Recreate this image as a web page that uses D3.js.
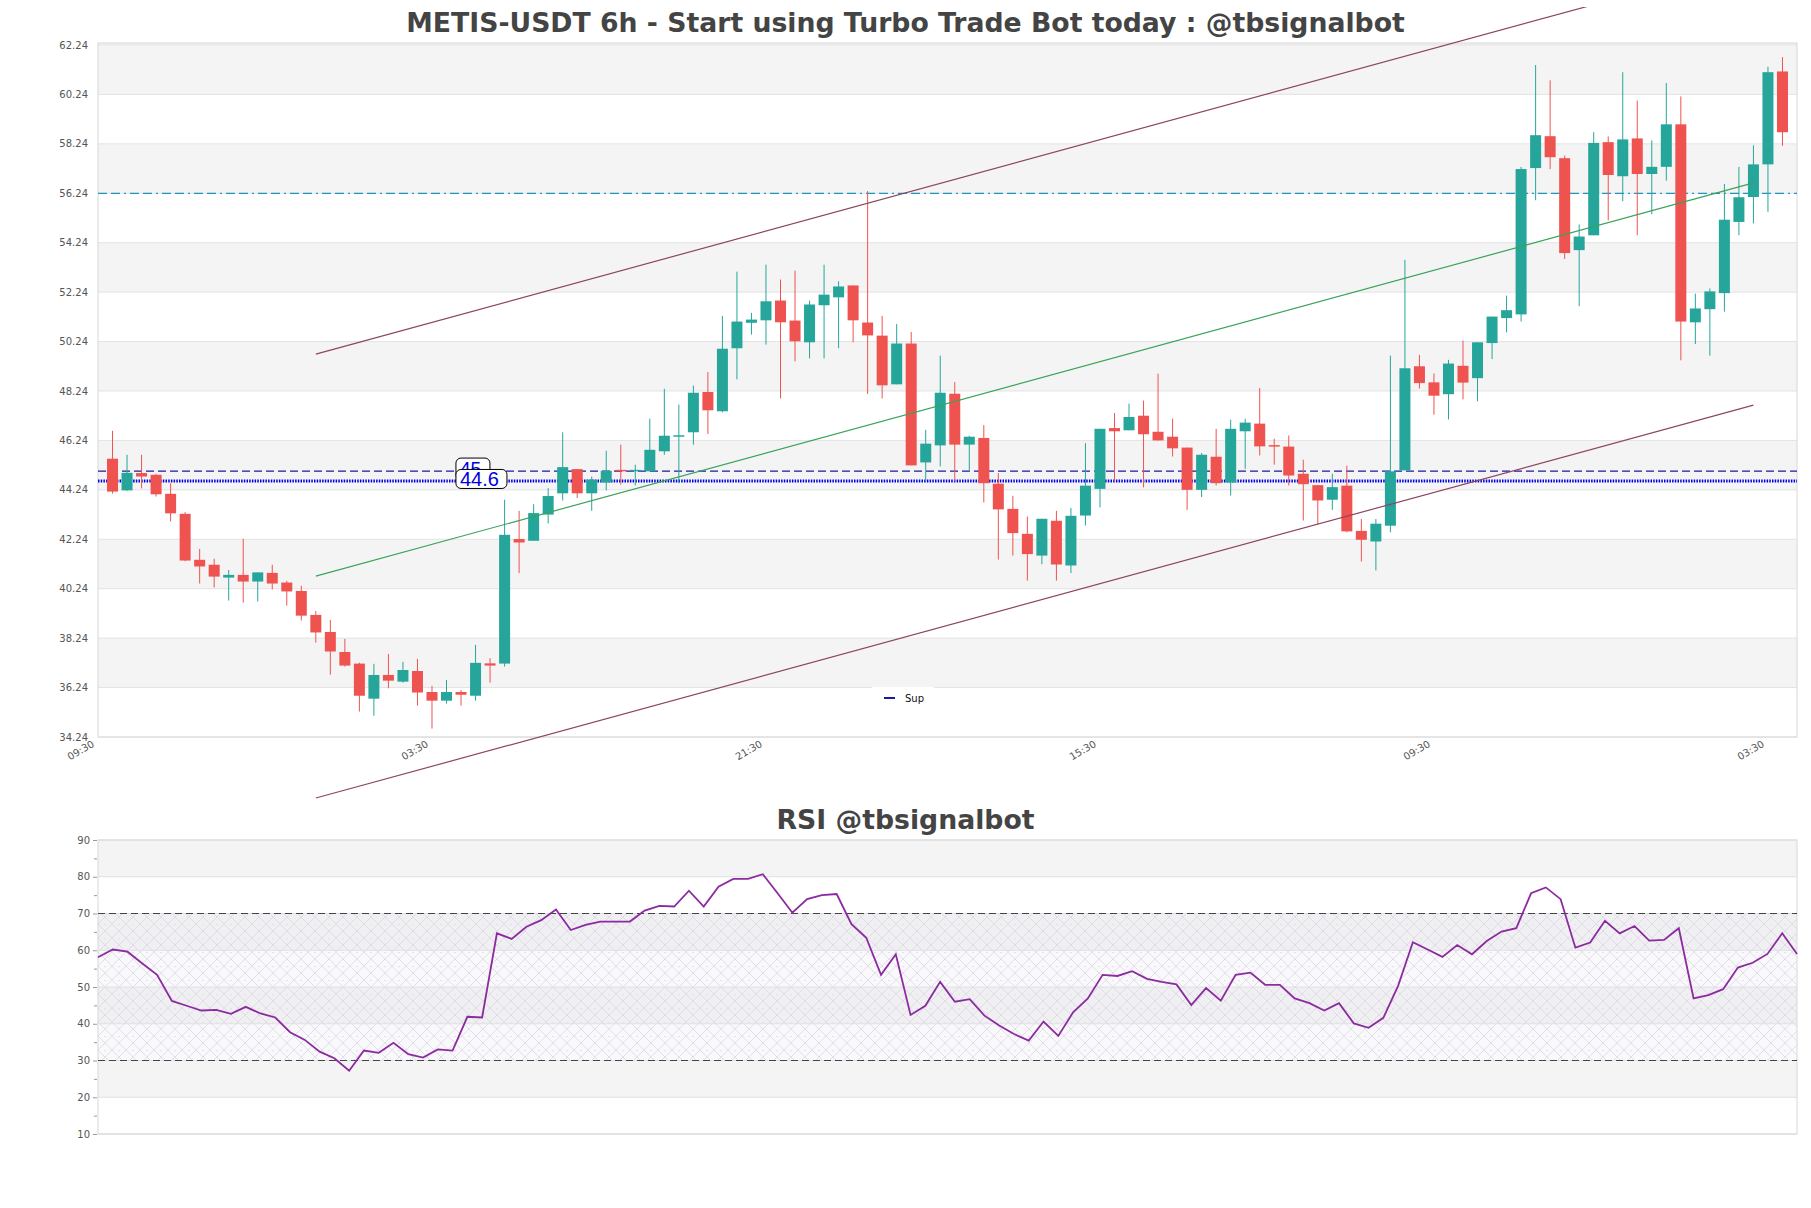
<!DOCTYPE html>
<html>
<head>
<meta charset="utf-8">
<script src="https://cdn.jsdelivr.net/npm/d3@7"></script>
<style>
  html, body { margin: 0; padding: 0; background: #fff; }
  svg { display: block; font-family: "DejaVu Sans", sans-serif; }
</style>
</head>
<body>
<svg id="chart" width="1811" height="1208"></svg>
<script>
// candles, 6h
const opens = [45.50,44.22,44.92,44.85,44.08,43.27,41.41,41.21,40.69,40.80,40.53,40.88,40.49,40.15,39.18,38.49,37.68,37.21,35.79,36.75,
  36.48,36.91,36.06,35.71,36.06,35.91,37.22,37.21,42.25,42.18,43.24,44.10,45.08,44.10,44.54,45.05,45.00,44.99,45.80,46.40,
  46.57,48.20,47.42,49.97,51.00,51.10,51.90,51.09,50.21,51.71,52.03,52.51,51.01,50.48,48.51,50.16,45.35,46.04,48.13,46.07,
  46.34,44.49,43.47,42.46,41.58,42.99,41.18,43.20,44.28,46.74,46.65,47.24,46.59,46.39,45.95,44.24,45.58,44.54,46.61,46.92,
  46.05,45.99,44.89,44.43,43.84,44.41,42.58,42.15,42.79,45.03,49.24,48.59,48.11,49.26,48.76,50.18,51.19,51.34,57.26,58.55,
  57.66,53.94,54.54,58.31,56.93,58.46,57.02,57.31,59.03,51.02,51.55,52.20,55.08,56.09,57.41,61.17];
const highs = [46.63,45.66,45.66,44.89,44.51,43.34,41.85,41.45,41.00,42.26,40.90,41.21,40.56,40.36,39.34,38.98,38.21,37.25,37.20,37.60,
  37.28,37.40,36.31,36.55,36.14,37.97,37.43,43.84,43.39,43.66,44.31,46.57,45.08,44.78,45.82,46.07,45.26,47.12,48.33,47.69,
  48.46,49.01,51.28,53.07,51.40,53.35,52.75,53.11,51.90,53.35,52.68,52.51,56.33,51.28,50.95,50.63,46.67,49.67,48.60,46.43,
  46.86,44.92,44.00,43.16,43.07,43.39,43.51,46.13,46.71,47.35,47.73,47.85,48.94,47.12,45.95,45.73,46.71,47.08,47.12,48.36,
  46.31,46.44,45.46,44.43,44.89,45.22,43.06,43.06,49.67,53.55,49.70,48.95,49.50,50.28,50.21,51.25,52.10,57.31,61.43,60.81,
  57.77,54.98,58.71,58.54,61.14,59.99,58.38,60.70,60.16,52.18,52.39,56.62,57.31,58.18,61.36,61.75];
const lows = [44.09,44.20,44.30,43.97,42.96,41.35,40.45,40.29,39.76,39.68,39.72,40.21,39.56,38.95,38.06,36.76,37.09,35.27,35.10,36.21,
  36.44,35.51,34.58,35.59,35.51,35.71,36.44,37.09,40.87,42.18,42.88,43.81,43.91,43.39,44.22,44.45,44.42,44.99,45.66,44.51,
  46.07,46.50,47.38,48.71,50.52,50.12,47.94,49.44,49.56,49.56,49.97,50.21,48.12,47.94,48.51,45.23,44.58,45.19,44.58,44.99,
  43.73,41.42,41.58,40.57,41.23,40.57,40.87,42.80,43.53,44.58,46.65,44.34,46.24,45.59,43.43,43.95,44.42,44.01,45.09,45.63,
  45.26,44.42,43.00,42.85,43.43,42.52,41.34,40.98,42.52,45.03,48.34,47.28,47.09,47.90,47.82,49.53,50.61,51.05,55.96,57.22,
  53.58,51.67,54.54,55.14,55.92,54.54,55.39,56.75,49.48,50.14,49.67,51.45,54.54,55.02,55.49,58.16];
const closes = [44.17,44.93,44.78,44.06,43.29,41.38,41.14,40.73,40.80,40.53,40.90,40.45,40.13,39.15,38.47,37.70,37.13,35.91,36.75,36.52,
  36.95,36.04,35.71,36.06,35.95,37.24,37.13,42.42,42.11,43.30,43.99,45.16,44.10,44.65,45.01,45.00,45.05,45.86,46.43,46.45,
  48.17,47.46,49.95,51.05,51.13,51.87,51.02,50.25,51.74,52.14,52.47,51.10,50.49,48.47,50.16,45.23,46.11,48.17,46.07,46.39,
  44.51,43.45,42.49,41.64,43.07,41.22,43.19,44.41,46.71,46.61,47.19,46.49,46.24,45.92,44.24,45.66,44.51,46.71,46.96,46.00,
  46.00,44.82,44.47,43.81,44.35,42.56,42.22,42.87,44.99,49.16,48.56,48.05,49.35,48.58,50.21,51.25,51.51,57.22,58.59,57.70,
  53.82,54.49,58.28,56.98,58.42,57.02,57.31,59.03,51.05,51.58,52.27,55.17,56.08,57.41,61.14,58.71];

const rsiValues = [58.1,60.2,59.6,56.4,53.3,46.2,44.9,43.6,43.8,42.7,44.6,42.8,41.7,37.7,35.6,32.4,30.6,27.2,32.7,32.1,
  34.8,31.7,30.8,33.0,32.7,41.9,41.7,64.6,63.1,66.4,68.2,71.1,65.5,66.9,67.8,67.8,67.8,70.8,72.1,71.9,
  76.2,71.9,77.3,79.4,79.4,80.7,75.5,70.2,73.9,75.0,75.3,67.1,63.4,53.3,58.9,42.4,44.9,51.4,46.0,46.7,
  42.2,39.5,37.2,35.4,40.6,36.7,43.1,46.9,53.3,53.0,54.3,52.2,51.4,50.7,45.1,49.7,46.3,53.3,53.9,50.6,
  50.6,46.9,45.6,43.6,45.6,40.1,38.9,41.6,50.3,62.2,60.2,58.2,61.4,58.9,62.5,65.1,66.0,75.5,77.1,73.9,
  60.7,62.1,68.0,64.6,66.6,62.6,62.8,66.0,46.9,47.8,49.4,55.3,56.6,59.0,64.6,59.0];

const priceTicks = [34.24,36.24,38.24,40.24,42.24,44.24,46.24,48.24,50.24,52.24,54.24,56.24,58.24,60.24,62.24];
const timeTickIdx = [-1, 22, 45, 68, 91, 114];
const timeTickLabels = ["09:30", "03:30", "21:30", "15:30", "09:30", "03:30"];
const rsiTicks = [10, 20, 30, 40, 50, 60, 70, 80, 90];

const resistance = 56.24;
const supports = [45, 44.6];
const supportLabels = ["45", "44.6"];
const labelIdx = 23.65;

const channelIdx = [14, 113];
const upperLine = [49.73, 65.64];
const midLine = [40.75, 56.66];
const lowerLine = [31.77, 47.67];

const W = 1811;
const svg = d3.select("#chart");
svg.append("rect").attr("width", W).attr("height", 1208).attr("fill", "#fff");

const left = 98, right = 1797;
const x = d3.scaleLinear().domain([-1, 116]).range([left, right]);
const y = d3.scaleLinear().domain([34.24, 62.24]).range([737, 45]);
const frameTop = 43, frameBottom = 737;

// titles
svg.append("text").attr("x", W / 2).attr("y", 32).attr("text-anchor", "middle")
  .attr("font-size", 26.7).attr("font-weight", "bold").attr("fill", "#444")
  .text("METIS-USDT 6h - Start using Turbo Trade Bot today : @tbsignalbot");
svg.append("text").attr("x", W / 2).attr("y", 829).attr("text-anchor", "middle")
  .attr("font-size", 26.7).attr("font-weight", "bold").attr("fill", "#444")
  .text("RSI @tbsignalbot");

// main panel bands + grid
const main = svg.append("g");
const bandStarts = priceTicks.filter((d, i) => i % 2 === 1 && i < priceTicks.length - 1);
main.selectAll(".band").data(bandStarts).enter().append("rect")
  .attr("x", left).attr("width", right - left)
  .attr("y", (d) => (d + 2 >= 62.24 ? frameTop : y(d + 2)))
  .attr("height", (d) => y(d) - (d + 2 >= 62.24 ? frameTop : y(d + 2)))
  .attr("fill", "#f4f4f4");
main.selectAll(".grid").data(priceTicks).enter().append("line")
  .attr("x1", left).attr("x2", right).attr("y1", (d) => y(d)).attr("y2", (d) => y(d))
  .attr("stroke", "#e3e3e3");
main.append("rect").attr("x", left).attr("y", frameTop).attr("width", right - left)
  .attr("height", frameBottom - frameTop).attr("fill", "none").attr("stroke", "#d8d8d8");

main.selectAll(".ylab").data(priceTicks).enter().append("text")
  .attr("x", 88).attr("y", (d) => y(d) + 3.5).attr("text-anchor", "end")
  .attr("font-size", 10).attr("fill", "#555").text((d) => d.toFixed(2));

timeTickIdx.forEach((t, i) => {
  main.append("text")
    .attr("transform", `translate(${x(t) - 3}, ${frameBottom + 9}) rotate(-30)`)
    .attr("text-anchor", "end").attr("font-size", 10).attr("fill", "#555")
    .text(timeTickLabels[i]);
});

// level lines
main.append("line").attr("x1", left).attr("x2", right)
  .attr("y1", y(resistance)).attr("y2", y(resistance))
  .attr("stroke", "#1b96c8").attr("stroke-width", 1.2).attr("stroke-dasharray", "9,4,9,4,2,4");
main.append("line").attr("x1", left).attr("x2", right)
  .attr("y1", y(supports[0])).attr("y2", y(supports[0]))
  .attr("stroke", "#1a1aa8").attr("stroke-width", 1.3).attr("stroke-dasharray", "8,4");
main.append("line").attr("x1", left).attr("x2", right)
  .attr("y1", y(supports[1])).attr("y2", y(supports[1]))
  .attr("stroke", "#0000e6").attr("stroke-width", 3).attr("stroke-dasharray", "1.5,1.2");

// candles
const data = opens.map((o, i) => ({ i, o, h: highs[i], l: lows[i], c: closes[i] }));
const up = "#26a69a", down = "#ef5350";
const bw = 11;
const candle = main.selectAll(".candle").data(data).enter().append("g");
candle.append("line")
  .attr("x1", (d) => x(d.i)).attr("x2", (d) => x(d.i))
  .attr("y1", (d) => y(d.h)).attr("y2", (d) => y(d.l))
  .attr("stroke", (d) => (d.c >= d.o ? up : down)).attr("stroke-width", 1);
candle.append("rect")
  .attr("x", (d) => x(d.i) - bw / 2).attr("width", bw)
  .attr("y", (d) => y(Math.max(d.o, d.c)))
  .attr("height", (d) => Math.max(1.5, Math.abs(y(d.o) - y(d.c))))
  .attr("fill", (d) => (d.c >= d.o ? up : down));

// trend channel
svg.append("clipPath").attr("id", "topclip").append("rect")
  .attr("x", 0).attr("y", 7).attr("width", W).attr("height", 1201);
const trend = svg.append("g").attr("clip-path", "url(#topclip)");
[[upperLine, "#8c4660"], [midLine, "#3aa35a"], [lowerLine, "#8c4660"]].forEach(([p, col]) => {
  trend.append("line")
    .attr("x1", x(channelIdx[0])).attr("y1", y(p[0]))
    .attr("x2", x(channelIdx[1])).attr("y2", y(p[1]))
    .attr("stroke", col).attr("stroke-width", 1.2);
});

// support labels
const lab = svg.append("g").attr("font-family", "'Liberation Sans', Arial, sans-serif");
const lx = x(labelIdx);
lab.append("rect").attr("x", lx).attr("y", y(supports[0]) - 13).attr("width", 34).attr("height", 22)
  .attr("rx", 5).attr("fill", "#fff").attr("stroke", "#000");
lab.append("text").attr("x", lx + 4).attr("y", y(supports[0]) + 4).attr("font-size", 19)
  .attr("fill", "#0000e6").text(supportLabels[0]);
lab.append("rect").attr("x", lx).attr("y", y(supports[1]) - 11.5).attr("width", 51).attr("height", 19)
  .attr("rx", 5).attr("fill", "#fff").attr("stroke", "#000");
lab.append("text").attr("x", lx + 4).attr("y", y(supports[1]) + 5).attr("font-size", 20)
  .attr("fill", "#0000e6").text(supportLabels[1]);

// legend
const leg = svg.append("g");
leg.append("rect").attr("x", 872).attr("y", 687).attr("width", 62).attr("height", 21).attr("fill", "#fff");
leg.append("line").attr("x1", 884).attr("x2", 895).attr("y1", 698).attr("y2", 698)
  .attr("stroke", "#1a1aa8").attr("stroke-width", 2);
leg.append("text").attr("x", 905).attr("y", 701.5).attr("font-size", 10).attr("fill", "#111").text("Sup");

// RSI panel
const rx = d3.scaleLinear().domain([0, rsiValues.length - 1]).range([left, right]);
const ry = d3.scaleLinear().domain([10, 90]).range([1134, 840]);
const rsiG = svg.append("g");

const defs = svg.append("defs");
const pat = defs.append("pattern").attr("id", "hatch").attr("patternUnits", "userSpaceOnUse")
  .attr("width", 14).attr("height", 14);
pat.append("rect").attr("width", 14).attr("height", 14).attr("fill", "rgba(228,222,236,0.22)");
pat.append("path").attr("d", "M0,0 L14,14 M14,0 L0,14").attr("stroke", "#d9d3e2").attr("stroke-width", 0.7);
pat.append("circle").attr("cx", 7).attr("cy", 0.5).attr("r", 0.8).attr("fill", "#e4d6ec");

const rsiBands = [80, 60, 40, 20];
rsiG.selectAll(".rband").data(rsiBands).enter().append("rect")
  .attr("x", left).attr("width", right - left)
  .attr("y", (d) => ry(d + 10)).attr("height", (d) => ry(d) - ry(d + 10))
  .attr("fill", "#f4f4f4");
rsiG.append("rect").attr("x", left).attr("width", right - left)
  .attr("y", ry(70)).attr("height", ry(30) - ry(70)).attr("fill", "url(#hatch)");
rsiG.selectAll(".rgrid").data(rsiTicks).enter().append("line")
  .attr("x1", left).attr("x2", right).attr("y1", (d) => ry(d)).attr("y2", (d) => ry(d))
  .attr("stroke", "#e0e0e4");
rsiG.append("rect").attr("x", left).attr("y", ry(90)).attr("width", right - left)
  .attr("height", ry(10) - ry(90)).attr("fill", "none").attr("stroke", "#d8d8d8");
[70, 30].forEach((v) => {
  rsiG.append("line").attr("x1", left).attr("x2", right).attr("y1", ry(v)).attr("y2", ry(v))
    .attr("stroke", "#444").attr("stroke-width", 1.1).attr("stroke-dasharray", "7,4");
});

const rAxis = d3.axisLeft(ry).tickValues(d3.range(10, 91, 5)).tickSize(4)
  .tickFormat((d) => (rsiTicks.includes(d) ? d : ""));
const ra = rsiG.append("g").attr("transform", `translate(${left - 1},0)`).call(rAxis);
ra.select(".domain").remove();
ra.selectAll("line").attr("stroke", "#999");
ra.selectAll("text").attr("font-size", 10).attr("fill", "#555").attr("font-family", "DejaVu Sans");
ra.selectAll(".tick").filter((d) => !rsiTicks.includes(d)).select("line").attr("x2", -3);

rsiG.append("path").datum(rsiValues)
  .attr("d", d3.line().x((d, i) => rx(i)).y((d) => ry(d)))
  .attr("fill", "none").attr("stroke", "#8b2b9f").attr("stroke-width", 1.8);
</script>
</body>
</html>
